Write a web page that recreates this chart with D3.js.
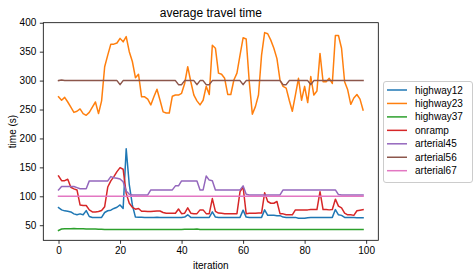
<!DOCTYPE html>
<html>
<head>
<meta charset="utf-8">
<script src="https://cdnjs.cloudflare.com/ajax/libs/d3/7.8.5/d3.min.js"></script>
<style>
  html, body { margin: 0; padding: 0; background: #fff; }
  svg { display: block; }
  text { font-family: "Liberation Sans", "Noto Sans", sans-serif; fill: #000; }
</style>
</head>
<body>
<div id="chart"></div>
<script>
// series values (100 iterations each)
const seriesNames = ["highway12", "highway23", "highway37", "onramp", "arterial45", "arterial56", "arterial67"];
const seriesColors = ["#1f77b4", "#ff7f0e", "#2ca02c", "#d62728", "#9467bd", "#8c564b", "#e377c2"];

const highway12 = [
  80.5, 76.5, 74.8, 74.2, 73, 69.6, 68, 69.6, 68, 75.3,
  65, 63.2, 63.2, 63.2, 63.5, 72, 75, 76, 79, 81,
  85, 79, 182, 120, 85, 64, 63.8, 63.6, 63.5, 63.5,
  63.4, 63.5, 63.6, 63.5, 63.4, 63.5, 63.5, 63.5, 63.4, 63.5,
  63.5, 64, 68, 63.5, 63.4, 63.5, 63.5, 63.4, 63.5, 63.5,
  73, 64, 63.5, 63.5, 63.4, 63.5, 63.5, 63.4, 63.5, 63.5,
  76, 64, 63.5, 63.5, 63.5, 63.4, 63.5, 76.5, 67, 67,
  67, 66.5, 66.5, 64, 63.5, 63.5, 63.4, 63.5, 62, 62,
  62, 63, 63.5, 63.5, 63.4, 63.5, 63.5, 63.5, 63.4, 63.5,
  77, 68, 67, 63.5, 63.3, 63.2, 63.2, 63.1, 63, 63
];
const highway23 = [
  272, 266, 271, 263, 254, 245, 247, 251, 243, 240,
  245, 254, 263, 243, 265, 324, 344, 363, 363, 365,
  373, 367, 376, 350, 333, 305, 311, 272, 272, 268,
  258, 272, 285, 266, 246, 244, 244, 273, 275, 275,
  278, 295, 324, 298, 275, 265, 258, 266, 290, 276,
  361, 356, 313, 311, 304, 276, 276, 301, 313, 344,
  374, 372, 298, 242, 255, 275, 344, 383, 381, 370,
  356, 338, 301, 290, 287, 266, 247, 275, 304, 266,
  290, 262, 307, 275, 282, 347, 298, 298, 304, 295,
  378, 378, 356, 298, 284, 259, 270, 276, 268, 249
];
const highway37 = [
  41, 43.5, 44, 44, 44, 44.5, 44, 44, 44, 43.5,
  43.5, 43.5, 43.5, 43, 43, 42.5, 42.5, 42.4, 42.5, 42.5,
  42.6, 42.5, 42.4, 42.5, 42.5, 42.5, 42.4, 42.5, 42.5, 42.6,
  42.5, 42.5, 42.4, 42.5, 42.5, 42.5, 42.6, 42.5, 42.5, 42.5,
  42.5, 43, 43, 43, 43, 43.5, 42.5, 42.5, 42.5, 42.4,
  42.5, 42.5, 42.5, 42.5, 42.4, 42.5, 42.5, 42.5, 42.5, 42.5,
  42.5, 42.4, 42.5, 42.5, 42.5, 42.5, 42.5, 42.5, 42.4, 42.5,
  42.5, 42.5, 42.5, 42.5, 42.5, 42.6, 42.5, 42.5, 42.5, 42.5,
  42.5, 42.5, 42.4, 42.5, 42.5, 42.5, 42.5, 42.5, 42.5, 42.5,
  42.6, 42.5, 42.5, 42.5, 42.5, 42.5, 42.5, 42.5, 42.5, 42.6
];
const onramp = [
  135, 127, 127, 129.5, 115.6, 112.8, 111, 85, 84, 84,
  76.5, 73, 73, 73.6, 75.5, 82, 116, 126.6, 134, 142.7,
  149.6, 146.7, 105, 88, 81, 77.6, 79, 74, 74, 73.5,
  73.5, 74, 74.5, 74.5, 72, 70.7, 70.7, 70.7, 70.7, 78,
  70, 70.7, 80, 70.7, 70, 70, 76.5, 76.5, 70, 70,
  96, 74, 71, 70.5, 70, 70, 70, 70, 70, 108,
  116, 70, 70.5, 70.5, 70.5, 71, 71, 106, 91, 88,
  88, 91, 70, 69.6, 68, 68, 68, 76.5, 76.5, 76.5,
  76.5, 76.5, 77, 77, 77, 108, 77, 77, 76.5, 77,
  95, 83, 80, 71, 68, 68, 67, 75, 76, 77
];
const arterial45 = [
  111, 116.8, 117, 117, 117, 117, 115, 113, 113, 113,
  126.6, 126.6, 126.6, 126.6, 126.6, 126.6, 126.6, 134, 132, 131,
  130, 125, 109, 103.5, 102.4, 102.4, 102.4, 102.4, 102.4, 102.4,
  111, 111, 111, 111, 111, 111, 111, 111, 118, 118,
  126.6, 126.6, 126.6, 126.6, 126.6, 126.6, 111, 111, 135, 128,
  127, 111, 111, 111, 111, 111, 111, 111, 111, 111,
  118, 103.5, 102.4, 102.4, 102.4, 102.4, 102.4, 102.4, 102.4, 102.4,
  102.4, 102.4, 102.4, 111, 111, 111, 111, 111, 111, 111,
  111, 111, 111, 111, 111, 111, 111, 111, 111, 111,
  111, 103, 102.4, 102.4, 102.4, 102.4, 102.4, 102.4, 102.4, 102.4
];
const arterial56 = [
  300, 301, 300, 300, 300, 300, 300, 300, 300, 300,
  300, 300, 300, 300, 300, 300, 300, 300, 300, 300,
  293, 300, 300, 300, 300, 300, 300, 300, 300, 300,
  300, 300, 300, 300, 300, 300, 300, 300, 300, 293,
  293, 300, 300, 300, 300, 293, 300, 300, 293, 293,
  300, 300, 300, 300, 300, 300, 300, 300, 300, 300,
  293, 300, 300, 300, 300, 300, 300, 300, 300, 300,
  300, 300, 300, 293, 293, 300, 300, 300, 300, 300,
  300, 300, 293, 300, 300, 300, 300, 300, 300, 300,
  300, 300, 300, 300, 300, 300, 300, 300, 300, 300
];
const arterial67 = [
  100, 100, 100, 100, 100, 100, 100, 100, 100, 100,
  100, 100, 100, 100, 100, 100, 100, 100, 100, 100,
  100, 100, 100, 100, 100, 100, 100, 100, 100, 100,
  100, 100, 100, 100, 100, 100, 100, 100, 100, 100,
  100, 100, 100, 100, 100, 100, 100, 100, 100, 100,
  100, 100, 100, 100, 100, 100, 100, 100, 100, 100,
  100, 100, 100, 100, 100, 100, 100, 100, 100, 100,
  100, 100, 100, 100, 100, 100, 100, 100, 100, 100,
  100, 100, 100, 100, 100, 100, 100, 100, 100, 100,
  100, 100, 100, 100, 100, 100, 100, 100, 100, 100
];
const xTicks = [0, 20, 40, 60, 80, 100];
const yTicks = [50, 100, 150, 200, 250, 300, 350, 400];

const allSeries = [highway12, highway23, highway37, onramp, arterial45, arterial56, arterial67];

// --- layout ---
const W = 476, H = 276;
const plot = { left: 43.3, right: 378.3, top: 22.7, bottom: 240.3 };

const svg = d3.select("#chart").append("svg")
  .attr("width", W)
  .attr("height", H);

// matplotlib-like 5% margins on data extent
const n = highway12.length;
const xPad = (n - 1) * 0.05;
const x = d3.scaleLinear()
  .domain([-xPad, n - 1 + xPad])
  .range([plot.left, plot.right]);

const yMin = d3.min(allSeries, s => d3.min(s));
const yMax = d3.max(allSeries, s => d3.max(s));
const yPad = (yMax - yMin) * 0.05;
const y = d3.scaleLinear()
  .domain([yMin - yPad, yMax + yPad])
  .range([plot.bottom, plot.top]);

svg.append("defs").append("clipPath").attr("id", "plot-clip")
  .append("rect")
  .attr("x", plot.left).attr("y", plot.top)
  .attr("width", plot.right - plot.left)
  .attr("height", plot.bottom - plot.top);

// lines
const line = d3.line()
  .x((d, i) => x(i))
  .y(d => y(d));

svg.append("g")
  .attr("clip-path", "url(#plot-clip)")
  .selectAll("path")
  .data(allSeries)
  .join("path")
  .attr("d", d => line(d))
  .attr("fill", "none")
  .attr("stroke", (d, i) => seriesColors[i])
  .attr("stroke-width", 1.5)
  .attr("stroke-linejoin", "round")
  .attr("stroke-linecap", "square");

// axes
const xAxis = svg.append("g")
  .attr("transform", `translate(0,${plot.bottom})`)
  .call(d3.axisBottom(x).tickValues(xTicks).tickSize(3.5).tickPadding(3.5).tickFormat(d3.format("d")));

const yAxis = svg.append("g")
  .attr("transform", `translate(${plot.left},0)`)
  .call(d3.axisLeft(y).tickValues(yTicks).tickSize(3.5).tickPadding(3.5).tickFormat(d3.format("d")));

[xAxis, yAxis].forEach(ax => {
  ax.select(".domain").remove();
  ax.selectAll(".tick line").attr("stroke", "#000").attr("stroke-width", 0.8);
  ax.selectAll(".tick text").attr("font-size", 10).attr("font-family", null).attr("fill", "#000");
});

// frame
svg.append("rect")
  .attr("x", plot.left).attr("y", plot.top)
  .attr("width", plot.right - plot.left)
  .attr("height", plot.bottom - plot.top)
  .attr("fill", "none")
  .attr("stroke", "#000")
  .attr("stroke-width", 0.8);

// titles
const cx = (plot.left + plot.right) / 2;
svg.append("text")
  .attr("x", cx).attr("y", 16.5)
  .attr("text-anchor", "middle")
  .attr("font-size", 12)
  .text("average travel time");

svg.append("text")
  .attr("x", cx).attr("y", 268.5)
  .attr("text-anchor", "middle")
  .attr("font-size", 10)
  .text("iteration");

svg.append("text")
  .attr("transform", `translate(16,${(plot.top + plot.bottom) / 2}) rotate(-90)`)
  .attr("text-anchor", "middle")
  .attr("font-size", 10)
  .text("time (s)");

// legend, outside the axes on the right
const legend = svg.append("g");
legend.append("rect")
  .attr("x", 383.5).attr("y", 81.5)
  .attr("width", 89).attr("height", 101)
  .attr("rx", 2.5)
  .attr("fill", "#fff")
  .attr("fill-opacity", 0.8)
  .attr("stroke", "#cccccc")
  .attr("stroke-width", 1);

const rowY = i => 90 + i * 13.45;
const item = legend.selectAll("g.item")
  .data(seriesNames)
  .join("g")
  .attr("class", "item");

item.append("line")
  .attr("x1", 387).attr("x2", 407)
  .attr("y1", (d, i) => rowY(i)).attr("y2", (d, i) => rowY(i))
  .attr("stroke", (d, i) => seriesColors[i])
  .attr("stroke-width", 1.5);

item.append("text")
  .attr("x", 415)
  .attr("y", (d, i) => rowY(i))
  .attr("dy", "0.35em")
  .attr("font-size", 10)
  .text(d => d);
</script>
</body>
</html>
